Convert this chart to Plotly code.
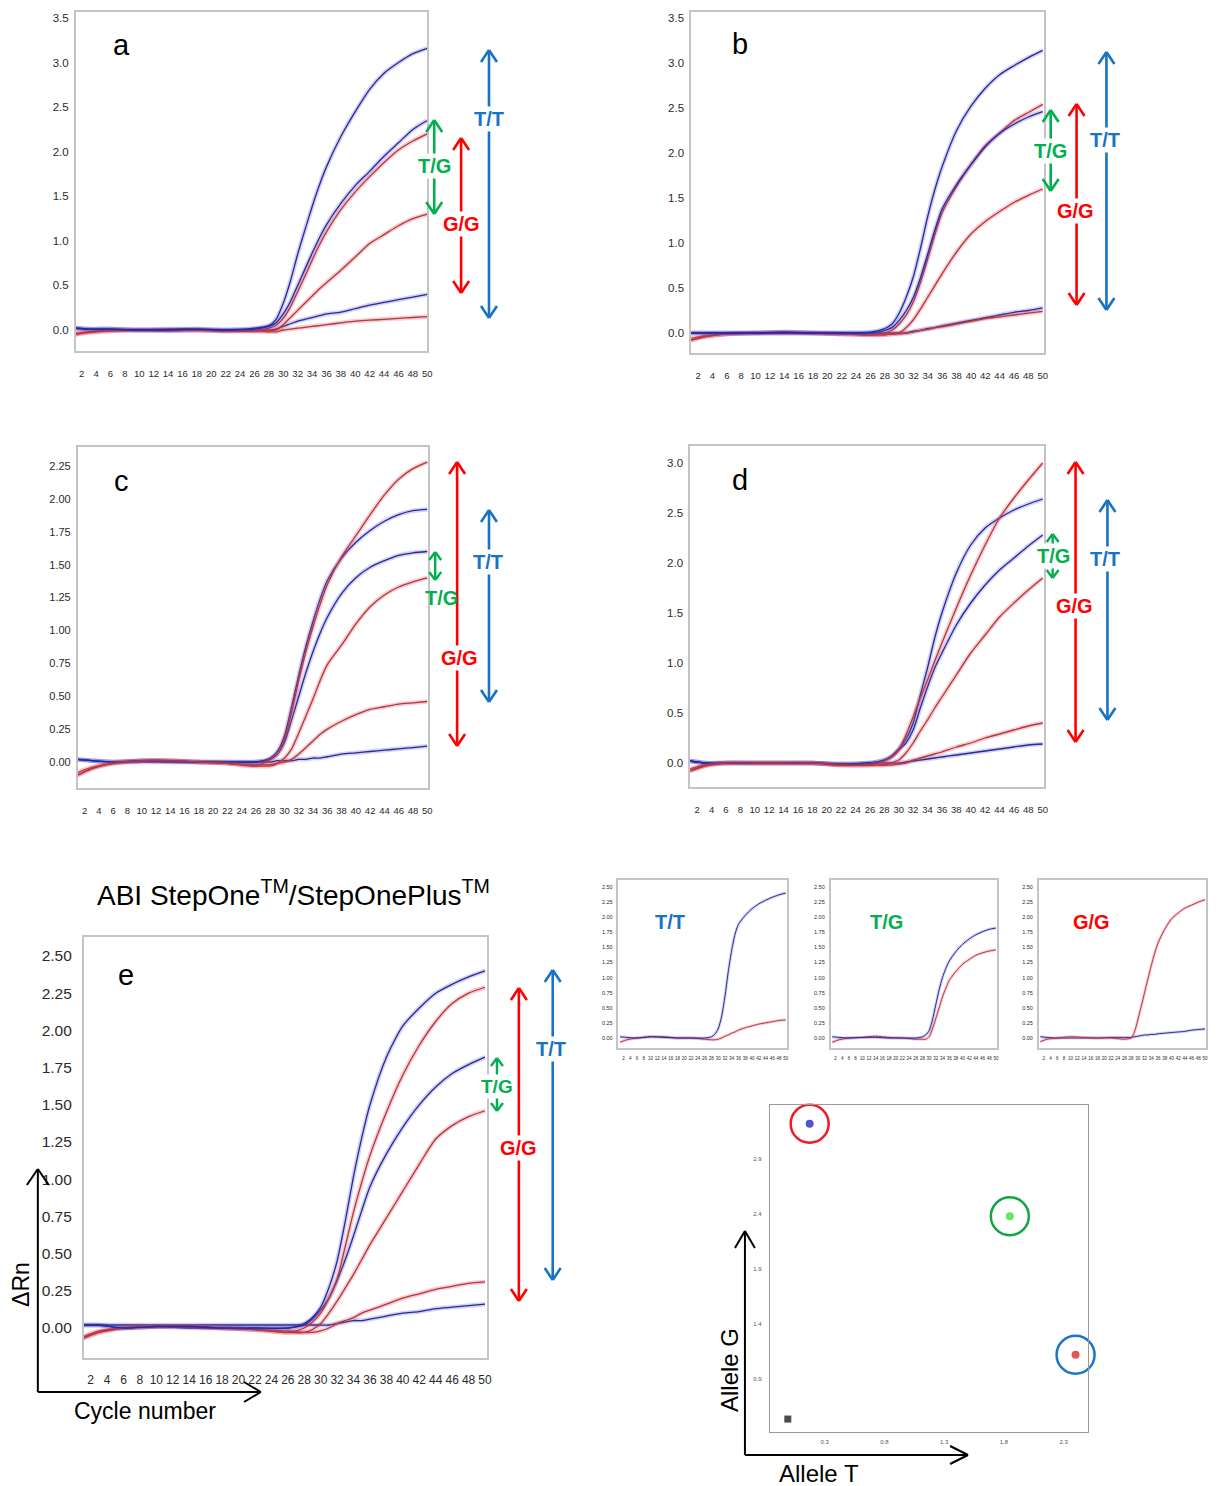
import plotly.graph_objects as go

W, H = 1221, 1486

# ---------------- data ----------------
CYCLES = [1, 3, 6, 10, 14, 18, 22, 26, 28, 29, 30, 31, 32, 33, 34, 35, 36, 38, 40, 42, 44, 46, 48, 50]

# panel a
A_B1 = [0.02, 0.01, 0.01, 0.0, 0.0, 0.01, 0.0, 0.02, 0.05, 0.12, 0.3, 0.55, 0.85, 1.12, 1.38, 1.62, 1.83, 2.17, 2.45, 2.7, 2.88, 3.0, 3.1, 3.16]
A_B2 = [0.02, 0.01, 0.01, 0.0, 0.01, 0.01, 0.0, 0.01, 0.04, 0.08, 0.18, 0.32, 0.5, 0.68, 0.86, 1.03, 1.18, 1.42, 1.62, 1.78, 1.95, 2.1, 2.25, 2.35]
A_R1 = [-0.05, -0.02, 0.0, 0.0, 0.0, 0.0, -0.01, -0.01, 0.02, 0.05, 0.13, 0.26, 0.43, 0.6, 0.78, 0.95, 1.1, 1.35, 1.55, 1.72, 1.88, 2.02, 2.12, 2.2]
A_R2 = [-0.05, -0.03, -0.01, 0.0, 0.0, 0.0, -0.01, -0.01, -0.01, 0.0, 0.06, 0.14, 0.22, 0.3, 0.38, 0.46, 0.53, 0.67, 0.82, 0.97, 1.07, 1.17, 1.25, 1.3]
A_B3 = [0.02, 0.01, 0.01, 0.0, -0.01, 0.0, 0.0, 0.0, 0.0, 0.01, 0.04, 0.07, 0.1, 0.12, 0.14, 0.16, 0.18, 0.2, 0.24, 0.28, 0.31, 0.34, 0.37, 0.4]
A_R3 = [-0.04, -0.02, -0.01, 0.0, 0.0, 0.0, -0.01, -0.01, -0.02, -0.02, 0.0, 0.01, 0.02, 0.03, 0.04, 0.05, 0.06, 0.08, 0.1, 0.11, 0.12, 0.13, 0.14, 0.15]

# panel b
B_B1 = [0.0, 0.0, 0.0, 0.0, 0.01, 0.0, 0.0, 0.01, 0.05, 0.1, 0.22, 0.4, 0.63, 0.95, 1.3, 1.6, 1.85, 2.25, 2.52, 2.72, 2.87, 2.97, 3.06, 3.14]
B_B2 = [0.0, 0.0, 0.0, 0.0, 0.0, 0.0, 0.0, 0.0, 0.03, 0.06, 0.14, 0.25, 0.4, 0.62, 0.88, 1.15, 1.38, 1.65, 1.87, 2.07, 2.22, 2.32, 2.4, 2.46]
B_R1 = [-0.08, -0.04, -0.01, 0.0, 0.0, 0.0, -0.01, -0.02, 0.0, 0.03, 0.1, 0.2, 0.35, 0.57, 0.83, 1.1, 1.34, 1.63, 1.87, 2.08, 2.22, 2.36, 2.45, 2.54]
B_R2 = [-0.08, -0.04, -0.01, 0.0, 0.0, 0.0, -0.01, -0.02, -0.02, -0.01, 0.0, 0.06, 0.15, 0.27, 0.4, 0.53, 0.66, 0.9, 1.1, 1.24, 1.35, 1.45, 1.53, 1.6]
B_B3 = [0.0, 0.0, 0.0, 0.0, 0.01, 0.0, 0.0, 0.0, 0.0, 0.0, 0.0, 0.0, 0.02, 0.03, 0.05, 0.06, 0.08, 0.11, 0.14, 0.17, 0.2, 0.23, 0.25, 0.28]
B_R3 = [-0.06, -0.03, -0.01, 0.0, 0.0, 0.0, -0.01, -0.02, -0.02, -0.01, -0.01, 0.0, 0.01, 0.03, 0.04, 0.06, 0.07, 0.1, 0.13, 0.16, 0.18, 0.2, 0.22, 0.24]

# panel c
C_R1 = [-0.1, -0.05, -0.01, 0.01, 0.01, 0.0, -0.01, -0.03, 0.02, 0.06, 0.17, 0.38, 0.62, 0.84, 1.03, 1.2, 1.35, 1.56, 1.72, 1.88, 2.03, 2.15, 2.23, 2.28]
C_B1 = [0.02, 0.01, 0.0, 0.01, 0.01, 0.0, 0.0, 0.0, 0.03, 0.08, 0.2, 0.42, 0.66, 0.88, 1.07, 1.24, 1.38, 1.55, 1.67, 1.76, 1.83, 1.88, 1.91, 1.92]
C_B2 = [0.02, 0.01, 0.0, 0.01, 0.0, 0.0, 0.0, 0.0, 0.02, 0.06, 0.15, 0.32, 0.5, 0.68, 0.84, 0.98, 1.1, 1.28, 1.4, 1.48, 1.53, 1.57, 1.59, 1.6]
C_R2 = [-0.1, -0.05, -0.01, 0.01, 0.01, 0.0, -0.01, -0.03, -0.03, -0.01, 0.03, 0.1, 0.22, 0.35, 0.48, 0.62, 0.74, 0.89, 1.05, 1.18, 1.27, 1.33, 1.37, 1.4]
C_R3 = [-0.08, -0.04, -0.01, 0.01, 0.01, 0.0, -0.01, -0.02, -0.02, -0.01, 0.0, 0.02, 0.06, 0.11, 0.16, 0.21, 0.25, 0.31, 0.36, 0.4, 0.42, 0.44, 0.45, 0.46]
C_B3 = [0.02, 0.01, 0.0, 0.0, 0.0, 0.0, 0.0, 0.0, 0.0, 0.01, 0.01, 0.01, 0.02, 0.02, 0.03, 0.03, 0.04, 0.06, 0.07, 0.08, 0.09, 0.1, 0.11, 0.12]

# panel d
D_R1 = [-0.08, -0.03, 0.0, 0.0, 0.0, 0.0, -0.02, -0.02, 0.02, 0.06, 0.13, 0.28, 0.46, 0.65, 0.83, 1.02, 1.2, 1.55, 1.88, 2.18, 2.45, 2.65, 2.83, 3.0]
D_B1 = [0.02, 0.0, 0.0, 0.0, 0.0, 0.0, -0.01, 0.0, 0.03, 0.07, 0.14, 0.24, 0.4, 0.68, 0.95, 1.25, 1.5, 1.9, 2.18, 2.35, 2.45, 2.53, 2.59, 2.64]
D_B2 = [0.02, 0.0, 0.0, 0.0, 0.0, 0.0, -0.01, 0.0, 0.03, 0.06, 0.13, 0.2, 0.33, 0.55, 0.76, 0.95, 1.1, 1.38, 1.6, 1.78, 1.93, 2.05, 2.17, 2.28]
D_R2 = [-0.08, -0.03, 0.0, 0.0, 0.0, 0.0, -0.02, -0.02, -0.02, 0.0, 0.03, 0.1, 0.2, 0.32, 0.43, 0.55, 0.66, 0.88, 1.1, 1.28, 1.46, 1.6, 1.73, 1.85]
D_R3 = [-0.06, -0.02, 0.0, 0.0, 0.0, 0.0, -0.02, -0.02, -0.02, -0.02, -0.01, 0.0, 0.03, 0.05, 0.07, 0.09, 0.11, 0.16, 0.2, 0.25, 0.29, 0.33, 0.37, 0.4]
D_B3 = [0.02, 0.0, 0.0, 0.0, 0.0, 0.0, -0.01, 0.0, 0.0, 0.0, 0.0, 0.01, 0.02, 0.03, 0.04, 0.05, 0.06, 0.08, 0.1, 0.12, 0.14, 0.16, 0.18, 0.19]

# panel e
E_B1 = [0.02, 0.02, 0.0, 0.01, 0.01, 0.0, 0.0, 0.0, 0.03, 0.07, 0.14, 0.27, 0.45, 0.72, 1.02, 1.28, 1.5, 1.82, 2.03, 2.15, 2.25, 2.31, 2.36, 2.4]
E_R1 = [-0.07, -0.03, 0.0, 0.01, 0.01, 0.0, -0.01, -0.03, 0.0, 0.04, 0.1, 0.2, 0.33, 0.55, 0.78, 0.98, 1.16, 1.45, 1.7, 1.9, 2.06, 2.18, 2.25, 2.29]
E_B2 = [0.02, 0.02, 0.0, 0.01, 0.0, 0.0, 0.0, 0.0, 0.02, 0.06, 0.12, 0.2, 0.32, 0.46, 0.62, 0.79, 0.95, 1.17, 1.35, 1.5, 1.62, 1.71, 1.77, 1.82]
E_R2 = [-0.07, -0.03, 0.0, 0.01, 0.01, 0.0, -0.01, -0.03, -0.03, -0.01, 0.03, 0.1, 0.18, 0.27, 0.36, 0.46, 0.56, 0.74, 0.92, 1.1, 1.27, 1.36, 1.42, 1.46]
E_R3 = [-0.06, -0.02, 0.0, 0.01, 0.01, 0.0, -0.01, -0.02, -0.03, -0.03, -0.02, 0.0, 0.03, 0.05, 0.07, 0.1, 0.12, 0.16, 0.2, 0.23, 0.26, 0.28, 0.3, 0.31]
E_B3 = [0.02, 0.02, 0.02, 0.02, 0.02, 0.02, 0.02, 0.02, 0.02, 0.02, 0.02, 0.02, 0.03, 0.04, 0.05, 0.05, 0.06, 0.08, 0.1, 0.11, 0.13, 0.14, 0.15, 0.16]

# small genotype panels
TT_B = [0.02, 0.01, 0.0, 0.02, 0.01, 0.0, 0.0, 0.0, 0.02, 0.06, 0.15, 0.35, 0.68, 1.1, 1.45, 1.72, 1.88, 2.03, 2.14, 2.22, 2.28, 2.33, 2.37, 2.4]
TT_R = [-0.07, -0.03, 0.0, 0.02, 0.02, 0.0, 0.0, -0.02, -0.03, -0.03, -0.02, 0.0, 0.03, 0.05, 0.08, 0.1, 0.13, 0.17, 0.2, 0.23, 0.25, 0.27, 0.29, 0.3]
TG_B = [0.02, 0.01, 0.0, 0.01, 0.01, 0.0, 0.0, 0.0, 0.02, 0.05, 0.12, 0.3, 0.55, 0.8, 1.0, 1.15, 1.27, 1.43, 1.55, 1.64, 1.71, 1.76, 1.8, 1.82]
TG_R = [-0.07, -0.03, 0.0, 0.01, 0.03, 0.01, 0.0, -0.02, -0.02, -0.02, 0.02, 0.15, 0.32, 0.5, 0.68, 0.82, 0.95, 1.1, 1.22, 1.3, 1.37, 1.41, 1.44, 1.46]
GG_R = [-0.06, -0.02, 0.0, 0.02, 0.01, 0.0, 0.0, -0.02, 0.0, 0.1, 0.3, 0.52, 0.75, 0.98, 1.2, 1.4, 1.57, 1.8, 1.97, 2.07, 2.15, 2.2, 2.25, 2.29]
GG_B = [0.02, 0.01, 0.0, 0.0, 0.0, 0.0, 0.01, 0.01, 0.01, 0.02, 0.03, 0.04, 0.05, 0.05, 0.06, 0.06, 0.07, 0.08, 0.09, 0.1, 0.11, 0.13, 0.14, 0.15]

# allelic discrimination plot
ALLELE_T = [0.175, 1.85, 2.4, -0.008]
ALLELE_G = [3.22, 2.38, 1.12, 0.536]
DOT_COLORS = ["#0c0cb4", "#1ee01e", "#d21010", "#000000"]
DOT_SYMBOLS = ["circle", "circle", "circle", "square"]
RING_COLORS = ["#ee1c24", "#10a544", "#1b75c8"]

GENO_LABELS = ["T/T", "T/G", "G/G"]
X_TICKS = list(range(2, 51, 2))

# ---------------- helpers ----------------
def px(x):
    return x / W

def py(y):
    return 1 - y / H

def lin_range(v1, p1, v2, p2, a, b):
    s = (v2 - v1) / (p2 - p1)
    return [v1 + (a - p1) * s, v1 + (b - p1) * s]

RED_CORE, RED_GLOW = "#ac3a3e", "rgba(235,70,90,0.28)"
BLUE_CORE, BLUE_GLOW = "#2a2a8c", "rgba(70,70,230,0.25)"
SANS = "Liberation Sans, Arial, sans-serif"

fig = go.Figure()
layout = dict(width=W, height=H, margin=dict(l=0, r=0, t=0, b=0),
              paper_bgcolor="white", plot_bgcolor="white", showlegend=False)
shapes, annots = [], []

PANELS = [
    dict(curves=[(A_B3, "b"), (A_R3, "r"), (A_R2, "r"), (A_R1, "r"), (A_B2, "b"), (A_B1, "b")],
         box=(76, 429, 12, 351), xc=(82, 429), yc=(0, 330, 3.5, 18),
         yt=[0, 0.5, 1, 1.5, 2, 2.5, 3, 3.5], fmt=".1f", yfs=11.5, xfs=9.5, xlen=13, ylen=3),
    dict(curves=[(B_B3, "b"), (B_R3, "r"), (B_R2, "r"), (B_R1, "r"), (B_B2, "b"), (B_B1, "b")],
         box=(694, 1048, 12, 353), xc=(701, 1047), yc=(0, 333, 3.5, 18),
         yt=[0, 0.5, 1, 1.5, 2, 2.5, 3, 3.5], fmt=".1f", yfs=11.5, xfs=9.5, xlen=13, ylen=3),
    dict(curves=[(C_B3, "b"), (C_R3, "r"), (C_R2, "r"), (C_B2, "b"), (C_B1, "b"), (C_R1, "r")],
         box=(78, 430, 447, 788), xc=(85, 429), yc=(0, 762, 2.25, 466),
         yt=[0, 0.25, 0.5, 0.75, 1, 1.25, 1.5, 1.75, 2, 2.25], fmt=".2f", yfs=11, xfs=9.5, xlen=13, ylen=3),
    dict(curves=[(D_B3, "b"), (D_R3, "r"), (D_R2, "r"), (D_B2, "b"), (D_B1, "b"), (D_R1, "r")],
         box=(693, 1048, 446, 787), xc=(700, 1047), yc=(0, 763, 3.0, 463),
         yt=[0, 0.5, 1, 1.5, 2, 2.5, 3], fmt=".1f", yfs=11.5, xfs=9.5, xlen=13, ylen=3),
    dict(curves=[(E_B3, "b"), (E_R3, "r"), (E_R2, "r"), (E_B2, "b"), (E_R1, "r"), (E_B1, "b")],
         box=(84, 489, 937, 1358), xc=(91, 487), yc=(0, 1328, 2.5, 956),
         yt=[0, 0.25, 0.5, 0.75, 1, 1.25, 1.5, 1.75, 2, 2.25, 2.5], fmt=".2f", yfs=15.5, xfs=12, xlen=10, ylen=7),
    dict(curves=[(TT_R, "r"), (TT_B, "b")],
         box=(621, 790, 880, 1048), xc=(626, 789), yc=(0, 1038, 2.5, 887),
         yt=[0, 0.25, 0.5, 0.75, 1, 1.25, 1.5, 1.75, 2, 2.25, 2.5], fmt=".2f", yfs=5.5, xfs=4.5, xlen=5, ylen=3),
    dict(curves=[(TG_R, "r"), (TG_B, "b")],
         box=(834, 1001, 880, 1048), xc=(839, 1000), yc=(0, 1038, 2.5, 887),
         yt=[0, 0.25, 0.5, 0.75, 1, 1.25, 1.5, 1.75, 2, 2.25, 2.5], fmt=".2f", yfs=5.5, xfs=4.5, xlen=5, ylen=3),
    dict(curves=[(GG_B, "b"), (GG_R, "r")],
         box=(1043, 1211, 880, 1048), xc=(1048, 1210), yc=(0, 1038, 2.5, 887),
         yt=[0, 0.25, 0.5, 0.75, 1, 1.25, 1.5, 1.75, 2, 2.25, 2.5], fmt=".2f", yfs=5.5, xfs=4.5, xlen=5, ylen=3),
]

for i, p in enumerate(PANELS, start=1):
    x0, x1, yt0, yb = p["box"]
    xa, ya = f"x{i}", f"y{i}"
    for vals, col in p["curves"]:
        glow = RED_GLOW if col == "r" else BLUE_GLOW
        core = RED_CORE if col == "r" else BLUE_CORE
        gw = 4.5 if i <= 5 else 3
        fig.add_trace(go.Scatter(x=CYCLES, y=vals, mode="lines", xaxis=xa, yaxis=ya,
                                 line=dict(color=glow, width=gw, shape="spline", smoothing=0.7),
                                 hoverinfo="skip"))
        fig.add_trace(go.Scatter(x=CYCLES, y=vals, mode="lines", xaxis=xa, yaxis=ya,
                                 line=dict(color=core, width=1.3 if i <= 5 else 1.0,
                                           shape="spline", smoothing=0.7),
                                 hoverinfo="skip"))
    v0, p0, v1, p1 = p["yc"]
    layout[f"xaxis{i}"] = dict(
        domain=[px(x0), px(x1)], anchor=ya,
        range=lin_range(2, p["xc"][0], 50, p["xc"][1], x0, x1),
        tickvals=X_TICKS, ticktext=[str(v) for v in X_TICKS], tickangle=0,
        showline=True, mirror=True, linecolor="#c4c4c4", linewidth=1.5,
        showgrid=False, zeroline=False, ticks="outside", ticklen=p["xlen"],
        tickcolor="rgba(0,0,0,0)", tickfont=dict(family=SANS, size=p["xfs"], color="#2a2a2a"))
    layout[f"yaxis{i}"] = dict(
        domain=[py(yb), py(yt0)], anchor=xa,
        range=lin_range(v0, p0, v1, p1, yb, yt0),
        tickvals=p["yt"], tickformat=p["fmt"],
        showline=True, mirror=True, linecolor="#c4c4c4", linewidth=1.5,
        showgrid=False, zeroline=False, ticks="outside", ticklen=p["ylen"],
        tickcolor="rgba(0,0,0,0)", tickfont=dict(family=SANS, size=p["yfs"], color="#2a2a2a"))

# allelic discrimination scatter (axis 9)
sx0, sx1, sy0, sy1 = 773, 1092, 1105, 1432
fig.add_trace(go.Scatter(x=ALLELE_T[:3], y=ALLELE_G[:3], mode="markers", xaxis="x9", yaxis="y9",
                         cliponaxis=False,
                         marker=dict(symbol="circle-open", size=38,
                                     line=dict(color=RING_COLORS, width=2.5), color=RING_COLORS),
                         hoverinfo="skip"))
fig.add_trace(go.Scatter(x=ALLELE_T, y=ALLELE_G, mode="markers", xaxis="x9", yaxis="y9",
                         cliponaxis=False,
                         marker=dict(symbol=DOT_SYMBOLS, size=[8, 8, 8, 7], color=DOT_COLORS,
                                     line=dict(width=0)),
                         hoverinfo="skip"))
layout["xaxis9"] = dict(domain=[px(sx0), px(sx1)], anchor="y9",
                        range=lin_range(0.3, 828, 2.3, 1068, sx0, sx1),
                        tickvals=[0.3, 0.8, 1.3, 1.8, 2.3], tickformat=".1f",
                        showline=True, mirror=True, linecolor="#9a9a9a", linewidth=1.2,
                        showgrid=False, zeroline=False, ticks="outside", ticklen=4,
                        tickcolor="rgba(0,0,0,0)", tickfont=dict(family=SANS, size=6, color="#555"))
layout["yaxis9"] = dict(domain=[py(sy1), py(sy0)], anchor="x9",
                        range=lin_range(0.9, 1379, 2.9, 1159, sy1, sy0),
                        tickvals=[0.9, 1.4, 1.9, 2.4, 2.9], tickformat=".1f",
                        showline=True, mirror=True, linecolor="#9a9a9a", linewidth=1.2,
                        showgrid=False, zeroline=False, ticks="outside", ticklen=6,
                        tickcolor="rgba(0,0,0,0)", tickfont=dict(family=SANS, size=6, color="#555"))

# ---------------- arrows & labels ----------------
def seg(xa, ya, xb, yb, color, width):
    shapes.append(dict(type="line", xref="paper", yref="paper", x0=px(xa), y0=py(ya),
                       x1=px(xb), y1=py(yb), line=dict(color=color, width=width), layer="above"))

def vhead(x, y, direction, color, width, hw, hl):
    seg(x - hw, y - direction * hl, x, y, color, width)
    seg(x + hw, y - direction * hl, x, y, color, width)

def hhead(x, y, color, width, hw, hl):
    seg(x - hl, y - hw, x, y, color, width)
    seg(x - hl, y + hw, x, y, color, width)

def dbl_arrow(x, ytop, ybot, color, hw=8, hl=12, width=2.6):
    seg(x, ytop + 1, x, ybot - 1, color, width)
    vhead(x, ytop, -1, color, width, hw, hl)
    vhead(x, ybot, 1, color, width, hw, hl)

def label(x, y, text, color, size=20, bg=True):
    annots.append(dict(x=px(x), y=py(y), xref="paper", yref="paper", text=f"<b>{text}</b>",
                       showarrow=False, xanchor="center", yanchor="middle",
                       font=dict(family=SANS, size=size, color=color),
                       bgcolor="white" if bg else "rgba(0,0,0,0)", borderpad=1))

TT_C, GG_C, TG_C = "#1673c6", "#ff0000", "#00b04f"

# panel a
dbl_arrow(491, 50, 318, TT_C); label(491, 119, GENO_LABELS[0], TT_C)
dbl_arrow(463, 138, 293, GG_C); label(463, 224, GENO_LABELS[2], GG_C)
dbl_arrow(436, 120, 214, TG_C); label(436, 166, GENO_LABELS[1], TG_C)
# panel b
dbl_arrow(1111, 52, 310, TT_C); label(1110, 140, GENO_LABELS[0], TT_C)
dbl_arrow(1081, 104, 305, GG_C); label(1080, 211, GENO_LABELS[2], GG_C)
dbl_arrow(1055, 110, 191, TG_C); label(1055, 151, GENO_LABELS[1], TG_C)
# panel c
dbl_arrow(459, 462, 746, GG_C); label(461, 658, GENO_LABELS[2], GG_C)
dbl_arrow(491, 510, 702, TT_C); label(490, 562, GENO_LABELS[0], TT_C)
dbl_arrow(437, 552, 580, TG_C, hw=6, hl=8, width=2.4); label(443, 598, GENO_LABELS[1], TG_C, bg=False)
# panel d
dbl_arrow(1080, 462, 742, GG_C); label(1079, 606, GENO_LABELS[2], GG_C)
dbl_arrow(1112, 500, 720, TT_C); label(1110, 559, GENO_LABELS[0], TT_C)
dbl_arrow(1057, 534, 578, TG_C, hw=6, hl=8, width=2.4); label(1058, 556, GENO_LABELS[1], TG_C)
# panel e
dbl_arrow(555, 970, 1280, TT_C); label(553, 1049, GENO_LABELS[0], TT_C)
dbl_arrow(521, 988, 1301, GG_C); label(521, 1148, GENO_LABELS[2], GG_C)
dbl_arrow(499, 1058, 1111, TG_C, hw=6, hl=8, width=2.4); label(499, 1086, GENO_LABELS[1], TG_C, size=19)

# small panel genotype titles
label(673, 922, GENO_LABELS[0], TT_C, size=20, bg=False)
label(890, 922, GENO_LABELS[1], TG_C, size=20, bg=False)
label(1096, 922, GENO_LABELS[2], GG_C, size=20, bg=False)

# panel letters
for (lx, ly, t) in [(122, 45, "a"), (743, 44, "b"), (122, 481, "c"), (743, 480, "d"), (127, 975, "e")]:
    annots.append(dict(x=px(lx), y=py(ly), xref="paper", yref="paper", text=t, showarrow=False,
                       xanchor="center", yanchor="middle", font=dict(family=SANS, size=29, color="black")))

# title for e
annots.append(dict(x=px(295), y=py(893), xref="paper", yref="paper",
                   text="ABI StepOne<sup>TM</sup>/StepOnePlus<sup>TM</sup>", showarrow=False,
                   xanchor="center", yanchor="middle", font=dict(family=SANS, size=28, color="black")))

# ΔRn / Cycle number axis arrows
seg(38, 1392, 38, 1170, "black", 2); vhead(38, 1169, -1, "black", 2, 11, 16)
seg(38, 1392, 261, 1392, "black", 2); hhead(262, 1392, "black", 2, 10, 17)
annots.append(dict(x=px(21), y=py(1284), xref="paper", yref="paper", text="ΔRn", textangle=-90,
                   showarrow=False, xanchor="center", yanchor="middle",
                   font=dict(family=SANS, size=23, color="black")))
annots.append(dict(x=px(146), y=py(1411), xref="paper", yref="paper", text="Cycle number",
                   showarrow=False, xanchor="center", yanchor="middle",
                   font=dict(family=SANS, size=23, color="black")))

# Allele arrows
seg(748, 1455, 748, 1232, "black", 2); vhead(748, 1231, -1, "black", 2, 10, 17)
seg(748, 1455, 971, 1455, "black", 2); hhead(972, 1455, "black", 2, 9, 18)
annots.append(dict(x=px(732), y=py(1370), xref="paper", yref="paper", text="Allele G", textangle=-90,
                   showarrow=False, xanchor="center", yanchor="middle",
                   font=dict(family=SANS, size=24, color="black")))
annots.append(dict(x=px(822), y=py(1473), xref="paper", yref="paper", text="Allele T",
                   showarrow=False, xanchor="center", yanchor="middle",
                   font=dict(family=SANS, size=24, color="black")))

layout["shapes"] = shapes
layout["annotations"] = annots
fig.update_layout(**layout)
fig.write_html("out.html")
